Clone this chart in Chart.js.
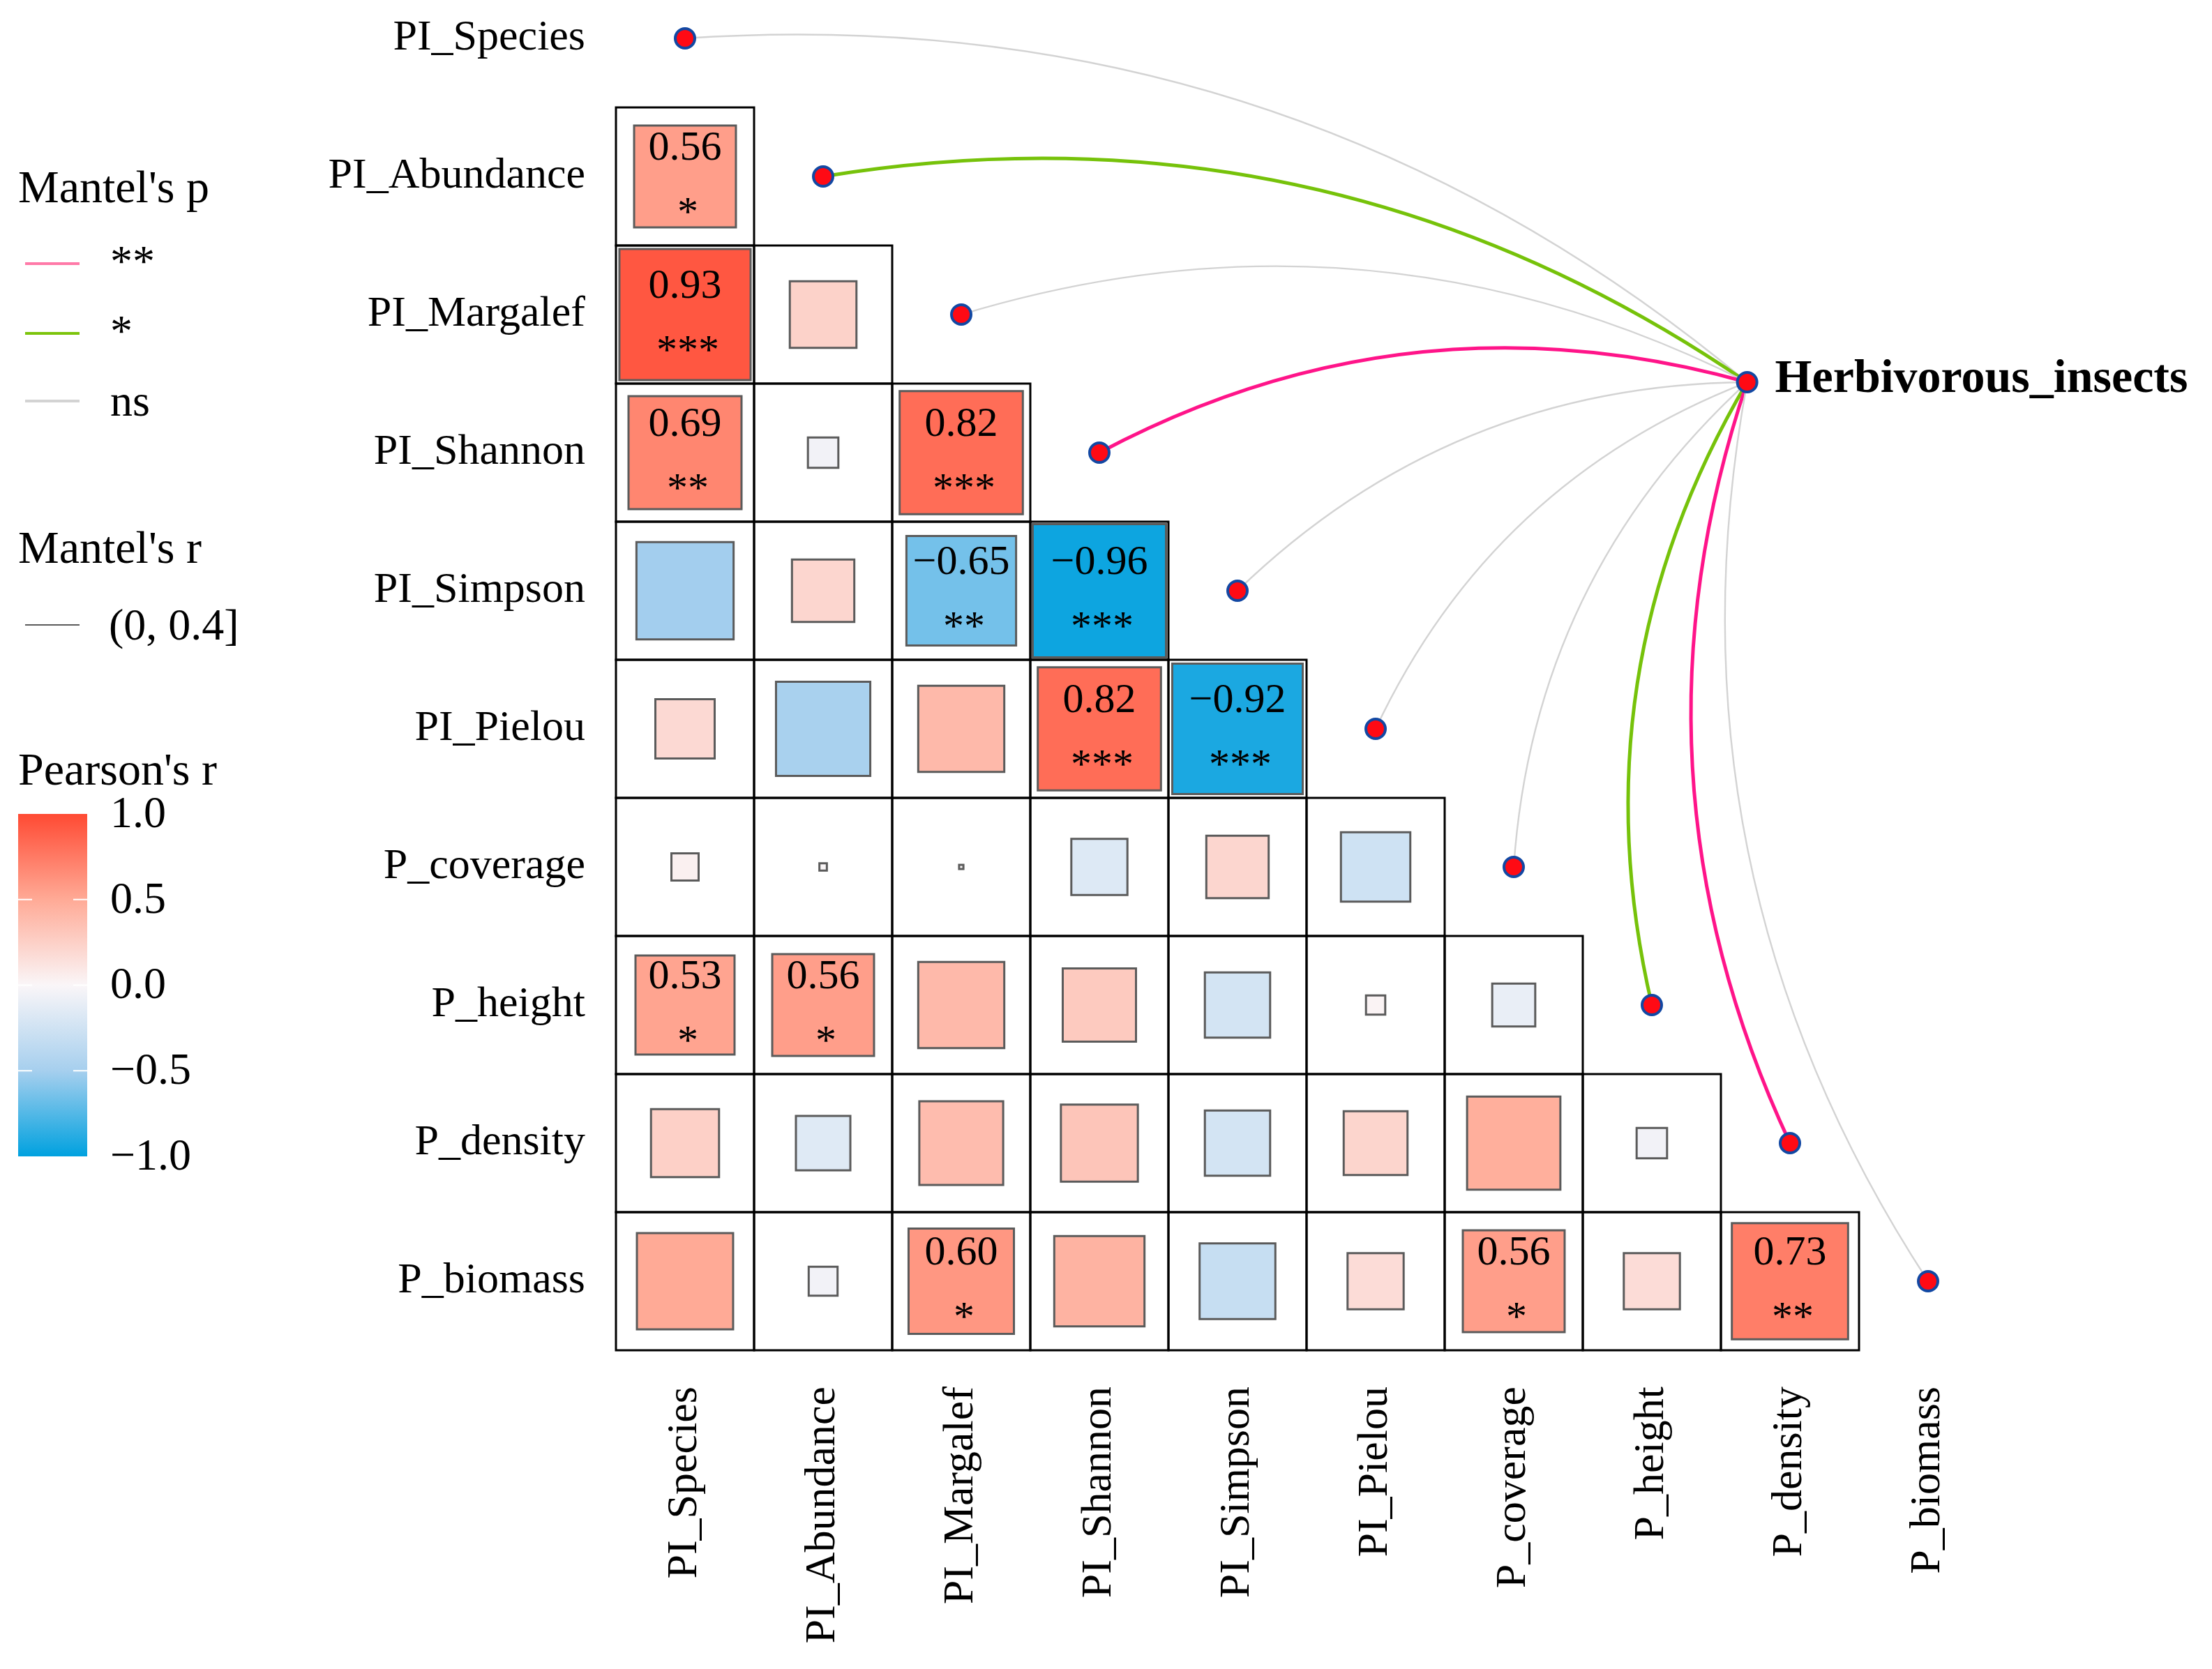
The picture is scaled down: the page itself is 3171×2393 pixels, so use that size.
<!DOCTYPE html>
<html>
<head>
<meta charset="utf-8">
<script src="https://cdn.jsdelivr.net/npm/chart.js@4.4.0/dist/chart.umd.min.js"></script>
<style>
  html, body { margin: 0; padding: 0; background: #fff; }
  canvas { display: block; }
</style>
</head>
<body>
<canvas id="mantelChart" width="3171" height="2393"></canvas>
<script>
const variables = ["PI_Species", "PI_Abundance", "PI_Margalef", "PI_Shannon", "PI_Simpson",
  "PI_Pielou", "P_coverage", "P_height", "P_density", "P_biomass"];

// Pearson's r, lower triangle: row i holds columns 0..i-1
const pearsonR = [
  [],
  [0.56],
  [0.93, 0.24],
  [0.69, -0.05, 0.82],
  [-0.51, 0.21, -0.65, -0.96],
  [0.19, -0.48, 0.40, 0.82, -0.92],
  [0.04, 0.003, 0.001, -0.17, 0.21, -0.26],
  [0.53, 0.56, 0.40, 0.29, -0.23, 0.02, -0.10],
  [0.25, -0.16, 0.38, 0.32, -0.23, 0.22, 0.47, -0.05],
  [0.50, -0.045, 0.60, 0.44, -0.31, 0.17, 0.56, 0.17, 0.73]
];

const pearsonStars = [
  [],
  ["*"],
  ["***", ""],
  ["**", "", "***"],
  ["", "", "**", "***"],
  ["", "", "", "***", "***"],
  ["", "", "", "", "", ""],
  ["*", "*", "", "", "", "", ""],
  ["", "", "", "", "", "", "", ""],
  ["", "", "*", "", "", "", "*", "", "**"]
];

// Mantel test of Herbivorous_insects against each variable
const mantelP = ["ns", "*", "ns", "**", "ns", "ns", "ns", "*", "**", "ns"];
const mantelPLevels = ["**", "*", "ns"];
const mantelRLevels = ["(0, 0.4]"];
const colorbarTicks = [1.0, 0.5, 0.0, -0.5, -1.0];
const targetName = "Herbivorous_insects";

// layout / style
const targetPos = { x: 7.69, y: 2.49 };
const SERIF = "'Liberation Serif', 'Times New Roman', serif";
const linkColors = { "**": "#ff1489", "*": "#76c20a", "ns": "#d3d3d3" };
const legendLinkColors = { "**": "#ff7aa8", "*": "#7cc40c", "ns": "#d3d3d3" };
const linkWidths = { "**": 5, "*": 5, "ns": 2.4 };

const colorStops = [
  [-1, [0, 161, 223]],
  [-0.5, [166, 207, 238]],
  [0, [250, 246, 248]],
  [0.5, [255, 170, 150]],
  [1, [255, 74, 51]]
];

function colorFor(v) {
  for (let k = 1; k < colorStops.length; k++) {
    const [v0, c0] = colorStops[k - 1];
    const [v1, c1] = colorStops[k];
    if (v <= v1) {
      const t = Math.max(0, (v - v0) / (v1 - v0));
      const c = c0.map((a, i) => Math.round(a + (c1[i] - a) * t));
      return `rgb(${c[0]},${c[1]},${c[2]})`;
    }
  }
  return "rgb(255,74,51)";
}

function fmt(v) {
  return (v < 0 ? "\u2212" : "") + Math.abs(v).toFixed(2);
}

function cellSize(chart) {
  const x = chart.scales.x;
  return x.getPixelForValue(1) - x.getPixelForValue(0);
}

const cells = [];
pearsonR.forEach((row, i) => {
  row.forEach((r, j) => {
    cells.push({ x: j, y: i, r: r, stars: pearsonStars[i][j] });
  });
});

const nodes = variables.map((name, i) => ({ x: i, y: i }));
nodes.push({ x: targetPos.x, y: targetPos.y });

const linkPlugin = {
  id: "mantelLinks",
  beforeDatasetsDraw(chart) {
    const { ctx, scales: { x, y } } = chart;
    const hx = x.getPixelForValue(targetPos.x);
    const hy = y.getPixelForValue(targetPos.y);
    ctx.save();
    ctx.lineCap = "round";
    variables.forEach((name, i) => {
      const px = x.getPixelForValue(i);
      const py = y.getPixelForValue(i);
      const dx = hx - px, dy = hy - py;
      const cx = (px + hx) / 2 + 0.2 * dy;
      const cy = (py + hy) / 2 - 0.2 * dx;
      ctx.beginPath();
      ctx.moveTo(px, py);
      ctx.quadraticCurveTo(cx, cy, hx, hy);
      ctx.strokeStyle = linkColors[mantelP[i]];
      ctx.lineWidth = linkWidths[mantelP[i]];
      ctx.stroke();
    });
    ctx.restore();
  },
  afterDatasetsDraw(chart) {
    const { ctx, scales: { x, y } } = chart;
    const size = cellSize(chart);
    ctx.save();
    ctx.fillStyle = "#000";
    ctx.textAlign = "center";
    ctx.textBaseline = "alphabetic";
    ctx.font = `60px ${SERIF}`;
    cells.forEach(c => {
      if (!c.stars) return;
      const cx = x.getPixelForValue(c.x);
      const cy = y.getPixelForValue(c.y);
      ctx.fillText(fmt(c.r), cx, cy - 0.12 * size);
      ctx.fillText(c.stars, cx + 4, cy + 0.355 * size);
    });
    // target node label
    ctx.textAlign = "left";
    ctx.font = `bold 68px ${SERIF}`;
    ctx.fillText(targetName, x.getPixelForValue(targetPos.x) + 40, y.getPixelForValue(targetPos.y) + 14);
    ctx.restore();
  },
  afterDraw(chart) {
    const ctx = chart.ctx;
    ctx.save();
    ctx.fillStyle = "#000";
    ctx.textAlign = "left";
    ctx.textBaseline = "alphabetic";

    ctx.font = `66px ${SERIF}`;
    ctx.fillText("Mantel's p", 26, 290);
    const pRows = [378, 478, 575];
    mantelPLevels.forEach((lvl, k) => {
      ctx.beginPath();
      ctx.moveTo(36, pRows[k]);
      ctx.lineTo(114, pRows[k]);
      ctx.strokeStyle = legendLinkColors[lvl];
      ctx.lineWidth = 4;
      ctx.stroke();
      ctx.font = `64px ${SERIF}`;
      const base = lvl === "ns" ? pRows[k] + 21 : pRows[k] + 18;
      ctx.fillText(lvl, 158, base);
    });

    ctx.font = `66px ${SERIF}`;
    ctx.fillText("Mantel's r", 26, 807);
    mantelRLevels.forEach((lvl, k) => {
      const yy = 896 + k * 100;
      ctx.beginPath();
      ctx.moveTo(36, yy);
      ctx.lineTo(114, yy);
      ctx.strokeStyle = "#5a5a5a";
      ctx.lineWidth = 2;
      ctx.stroke();
      ctx.font = `64px ${SERIF}`;
      ctx.fillText(lvl, 156, yy + 21);
    });

    ctx.font = `66px ${SERIF}`;
    ctx.fillText("Pearson's r", 26, 1125);

    const barX = 26, barW = 99, barTop = 1167, barBot = 1658;
    const grad = ctx.createLinearGradient(0, barTop, 0, barBot);
    colorStops.forEach(([v, c]) => {
      grad.addColorStop((1 - v) / 2, `rgb(${c[0]},${c[1]},${c[2]})`);
    });
    ctx.fillStyle = grad;
    ctx.fillRect(barX, barTop, barW, barBot - barTop);
    ctx.strokeStyle = "#fff";
    ctx.lineWidth = 2;
    ctx.font = `64px ${SERIF}`;
    ctx.textBaseline = "middle";
    colorbarTicks.forEach(v => {
      const yy = barTop + (1 - v) / 2 * (barBot - barTop);
      if (v < 1 && v > -1) {
        ctx.beginPath();
        ctx.moveTo(barX, yy); ctx.lineTo(barX + 20, yy);
        ctx.moveTo(barX + barW - 20, yy); ctx.lineTo(barX + barW, yy);
        ctx.stroke();
      }
      ctx.fillStyle = "#000";
      ctx.fillText((v < 0 ? "\u2212" : "") + Math.abs(v).toFixed(1), 158, yy + 2);
    });
    ctx.restore();
  }
};

const tickFont = { family: SERIF, size: 62 };

new Chart(document.getElementById("mantelChart"), {
  type: "scatter",
  data: {
    datasets: [
      {
        label: "cells",
        data: cells,
        order: 3,
        clip: false,
        pointStyle: "rect",
        pointRadius: ctx => cellSize(ctx.chart) / Math.SQRT2,
        pointHoverRadius: ctx => cellSize(ctx.chart) / Math.SQRT2,
        backgroundColor: "rgba(0,0,0,0)",
        borderColor: "#000",
        borderWidth: 3
      },
      {
        label: "pearson",
        data: cells,
        order: 2,
        clip: false,
        pointStyle: "rect",
        pointRadius: ctx => Math.sqrt(Math.abs(ctx.raw.r)) * cellSize(ctx.chart) * 0.985 / Math.SQRT2,
        pointHoverRadius: ctx => Math.sqrt(Math.abs(ctx.raw.r)) * cellSize(ctx.chart) * 0.985 / Math.SQRT2,
        backgroundColor: ctx => colorFor(ctx.raw.r),
        borderColor: "#5b5b5b",
        borderWidth: 3
      },
      {
        label: "nodes",
        data: nodes,
        order: 1,
        clip: false,
        pointStyle: "circle",
        pointRadius: 14,
        pointHoverRadius: 14,
        backgroundColor: "#ff0a14",
        borderColor: "#1248a3",
        borderWidth: 4
      }
    ]
  },
  options: {
    responsive: false,
    animation: false,
    devicePixelRatio: 1,
    events: [],
    layout: { autoPadding: false, padding: { left: 0, right: 308, top: 5.5, bottom: 0 } },
    plugins: { legend: { display: false }, tooltip: { enabled: false } },
    scales: {
      x: {
        type: "linear",
        min: -0.5,
        max: 9.5,
        grid: { display: false, drawTicks: false },
        border: { display: false },
        afterBuildTicks: s => { s.ticks = variables.map((v, i) => ({ value: i })); },
        afterFit: s => { s.height = 457; s.paddingLeft = 0; s.paddingRight = 0; },
        ticks: {
          autoSkip: false,
          minRotation: 90,
          maxRotation: 90,
          padding: 52,
          color: "#000",
          font: tickFont,
          callback: v => variables[v]
        }
      },
      y: {
        type: "linear",
        min: -0.25,
        max: 9.5,
        reverse: true,
        grid: { display: false, drawTicks: false },
        border: { display: false },
        afterBuildTicks: s => { s.ticks = variables.map((v, i) => ({ value: i })); },
        afterFit: s => { s.width = 883; s.paddingTop = 0; s.paddingBottom = 0; },
        ticks: {
          autoSkip: false,
          padding: 44,
          color: "#000",
          font: tickFont,
          callback: v => variables[v]
        }
      }
    }
  },
  plugins: [linkPlugin]
});
</script>
</body>
</html>
